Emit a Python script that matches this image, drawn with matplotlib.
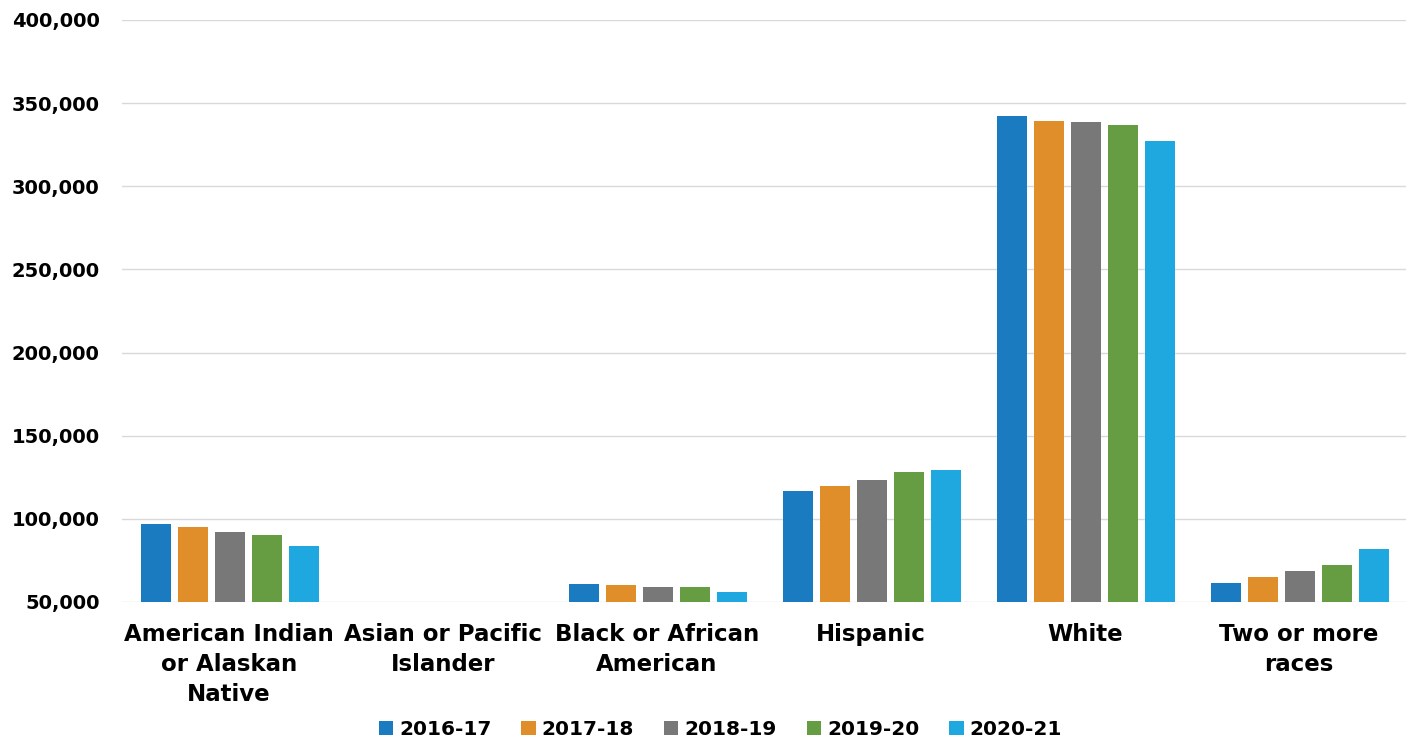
"""
Enrollment by race/ethnicity, 2016-17 through 2020-21 (grouped bars).
"""

import numpy as np
import matplotlib
matplotlib.use("Agg")
import matplotlib.pyplot as plt
from matplotlib.ticker import FuncFormatter

# categories and series values
categories = [
    "American Indian\nor Alaskan\nNative",
    "Asian or Pacific\nIslander",
    "Black or African\nAmerican",
    "Hispanic",
    "White",
    "Two or more\nraces",
]
years = ["2016-17", "2017-18", "2018-19", "2019-20", "2020-21"]

vals_2016 = [96900, 15000, 60800, 116800, 342300, 61400]
vals_2017 = [95100, 15000, 60200, 119800, 339300, 65000]
vals_2018 = [92100, 15000, 59300, 123400, 338700, 68600]
vals_2019 = [90300, 15000, 59000, 128200, 336900, 72200]
vals_2020 = [83700, 15000, 56000, 129400, 327300, 81900]
series = [vals_2016, vals_2017, vals_2018, vals_2019, vals_2020]

colors = ["#1a7bc0", "#e08e2a", "#787878", "#669c42", "#1fa7e0"]

plt.rcParams["font.family"] = ["DejaVu Sans"]
plt.rcParams["font.weight"] = "bold"

fig = plt.figure(figsize=(14.18, 7.40), dpi=100)
ax = fig.add_axes([0.086, 0.1865, 0.9055, 0.7865])

x = np.arange(len(categories))
pitch = 0.172
bar_w = 0.14
for i, (label, vals, col) in enumerate(zip(years, series, colors)):
    offs = (i - 2) * pitch
    ax.bar(x + offs + 0.005, vals, width=bar_w, color=col, label=label, zorder=3)

ax.set_xlim(-0.5, len(categories) - 0.5)
ax.set_ylim(50000, 400000)
ax.set_yticks(np.arange(50000, 400001, 50000))
ax.yaxis.set_major_formatter(FuncFormatter(lambda v, p: f"{int(v):,}"))

ax.set_xticks(x)
ax.set_xticklabels(categories, fontsize=16.5, fontweight="bold", linespacing=1.38)
for lbl in ax.get_yticklabels():
    lbl.set_fontsize(14)
    lbl.set_fontweight("bold")

ax.tick_params(axis="both", length=0)
ax.tick_params(axis="x", pad=15)
ax.tick_params(axis="y", pad=16)

ax.grid(axis="y", color="#d9d9d9", linewidth=1, zorder=0)
for s in ax.spines.values():
    s.set_visible(False)

fig.legend(loc="lower center", bbox_to_anchor=(0.508, -0.023), ncol=5,
           frameon=False, handlelength=0.7, handleheight=0.7,
           handletextpad=0.3, columnspacing=1.5,
           prop={"weight": "bold", "size": 14.5})

fig.savefig("out.png", dpi=100)
